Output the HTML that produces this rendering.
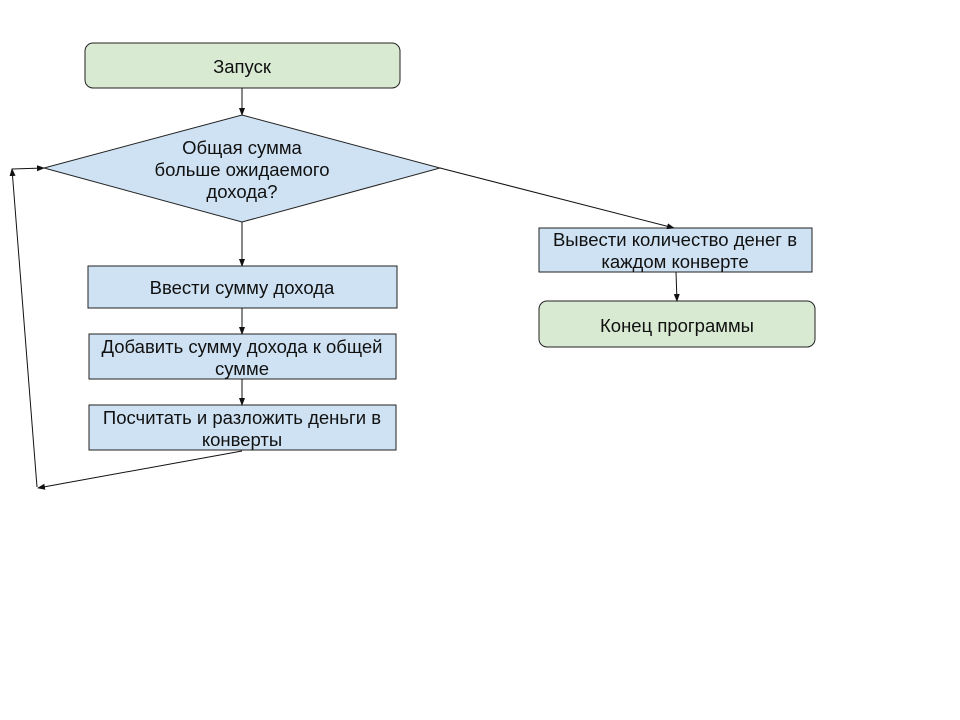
<!DOCTYPE html>
<html><head><meta charset="utf-8"><style>
html,body{margin:0;padding:0;background:#fff;width:960px;height:720px;overflow:hidden}
text{font-family:"Liberation Sans","Noto Sans CJK SC",sans-serif;font-size:18.5px;fill:#111}
</style></head><body>
<svg width="960" height="720" viewBox="0 0 960 720" xmlns="http://www.w3.org/2000/svg">
<defs><marker id="a" markerWidth="8" markerHeight="8" refX="7" refY="4" orient="auto" markerUnits="userSpaceOnUse"><path d="M0,1 L8,4 L0,7 z" fill="#111"/></marker></defs>
<g stroke="#222" stroke-width="1">
<rect x="85" y="43" width="315" height="45" rx="8" fill="#d9ead3"/>
<polygon points="242,115 440,168 242,222 44,168" fill="#cfe2f3"/>
<rect x="88" y="266" width="309" height="42" fill="#cfe2f3"/>
<rect x="89" y="334" width="307" height="45" fill="#cfe2f3"/>
<rect x="89" y="405" width="307" height="45" fill="#cfe2f3"/>
<rect x="539" y="228" width="273" height="44" fill="#cfe2f3"/>
<rect x="539" y="301" width="276" height="46" rx="8" fill="#d9ead3"/>
</g>
<g stroke="#111" stroke-width="1" fill="none">
<line x1="242" y1="88" x2="242" y2="115" marker-end="url(#a)"/>
<line x1="242" y1="222" x2="242" y2="266" marker-end="url(#a)"/>
<line x1="242" y1="308" x2="242" y2="334" marker-end="url(#a)"/>
<line x1="242" y1="379" x2="242" y2="405" marker-end="url(#a)"/>
<line x1="242" y1="451" x2="38" y2="488" marker-end="url(#a)"/>
<line x1="37" y1="487" x2="12" y2="169" marker-end="url(#a)"/>
<line x1="12" y1="169" x2="44" y2="168" marker-end="url(#a)"/>
<line x1="440" y1="168" x2="674" y2="228" marker-end="url(#a)"/>
<line x1="676" y1="272" x2="677" y2="301" marker-end="url(#a)"/>
</g>
<g text-anchor="middle">
<text x="242" y="73">Запуск</text>
<text x="242" y="154">Общая сумма</text>
<text x="242" y="176">больше ожидаемого</text>
<text x="242" y="198">дохода?</text>
<text x="242" y="294">Ввести сумму дохода</text>
<text x="242" y="353">Добавить сумму дохода к общей</text>
<text x="242" y="375">сумме</text>
<text x="242" y="424">Посчитать и разложить деньги в</text>
<text x="242" y="446">конверты</text>
<text x="675" y="246">Вывести количество денег в</text>
<text x="675" y="268">каждом конверте</text>
<text x="677" y="332">Конец программы</text>
</g>
</svg>
</body></html>
